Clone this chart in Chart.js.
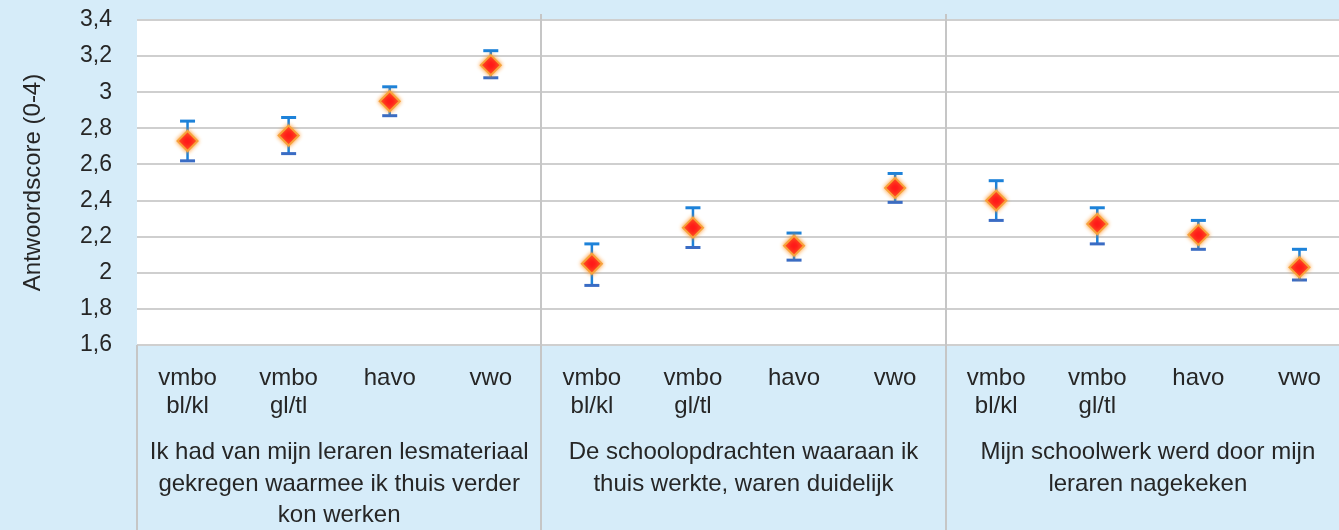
<!DOCTYPE html>
<html><head><meta charset="utf-8">
<script src="https://cdn.jsdelivr.net/npm/chart.js@4.4.0/dist/chart.umd.min.js"></script>
<style>
html,body{margin:0;padding:0;overflow:hidden;background:#d6ecf9;}
#wrap{position:relative;width:1339px;height:530px;overflow:hidden;}
</style>
</head><body>
<div id="wrap"><canvas id="c" width="1339" height="530"></canvas></div>
<script>
// ---- data ----
const groupLabels = [
  ["Ik had van mijn leraren lesmateriaal", "gekregen waarmee ik thuis verder", "kon werken"],
  ["De schoolopdrachten waaraan ik", "thuis werkte, waren duidelijk"],
  ["Mijn schoolwerk werd door mijn", "leraren nagekeken"]
];
const levelLabels = [["vmbo", "bl/kl"], ["vmbo", "gl/tl"], ["havo"], ["vwo"]];
const means = [2.73, 2.76, 2.95, 3.15,  2.05, 2.25, 2.15, 2.47,  2.40, 2.27, 2.21, 2.03];
const lower = [2.62, 2.66, 2.87, 3.08,  1.93, 2.14, 2.07, 2.39,  2.29, 2.16, 2.13, 1.96];
const upper = [2.84, 2.86, 3.03, 3.23,  2.16, 2.36, 2.22, 2.55,  2.51, 2.36, 2.29, 2.13];
const yMin = 1.6, yMax = 3.4, yStep = 0.2;
const yTitle = "Antwoordscore (0-4)";

const categories = [];
groupLabels.forEach(() => levelLabels.forEach(l => categories.push(l)));

const TEXT = '#262626';
const FONT = "'Liberation Sans', Arial, sans-serif";
const PLOT_OVERHANG = 11; // plot area continues past the right edge of the picture

function noPad(s) { s.paddingLeft = 0; s.paddingRight = 0; s.paddingTop = 0; s.paddingBottom = 0; }

const framePlugin = {
  id: 'frame',
  afterLayout(chart) {
    const a = chart.chartArea;
    const target = chart.width + PLOT_OVERHANG;
    a.right = target;
    a.width = a.right - a.left;
    ['x', 'x2'].forEach(id => {
      const s = chart.scales[id];
      s.right = target;
      s.width = s.right - s.left;
      s.configure();
    });
  },
  beforeDraw(chart) {
    const {ctx, chartArea: a} = chart;
    ctx.save();
    ctx.fillStyle = '#ffffff';
    ctx.fillRect(a.left, a.top, a.right - a.left, a.bottom - a.top);
    ctx.restore();
  },
  beforeDatasetsDraw(chart) {
    const {ctx, chartArea: a} = chart;
    const x = chart.scales.x, y = chart.scales.y;
    ctx.save();
    ctx.strokeStyle = '#c6c6c6';
    ctx.lineWidth = 2;
    for (let g = 1; g < groupLabels.length; g++) {
      const i = g * levelLabels.length;
      const px = Math.round((x.getPixelForValue(i - 1) + x.getPixelForValue(i)) / 2);
      ctx.beginPath(); ctx.moveTo(px, a.top - 6); ctx.lineTo(px, chart.height); ctx.stroke();
    }
    ctx.beginPath(); ctx.moveTo(a.left, a.bottom); ctx.lineTo(a.left, chart.height); ctx.stroke();
    const cap = 7.5;
    means.forEach((m, i) => {
      const px = x.getPixelForValue(i);
      const yt = y.getPixelForValue(upper[i]);
      const yb = y.getPixelForValue(lower[i]);
      ctx.lineWidth = 2.5;
      ctx.strokeStyle = '#1d82d9';
      ctx.beginPath(); ctx.moveTo(px, yt); ctx.lineTo(px, yb); ctx.stroke();
      ctx.lineWidth = 3;
      ctx.beginPath(); ctx.moveTo(px - cap, yt); ctx.lineTo(px + cap, yt); ctx.stroke();
      ctx.strokeStyle = '#3a6cc4';
      ctx.beginPath(); ctx.moveTo(px - cap, yb); ctx.lineTo(px + cap, yb); ctx.stroke();
    });
    ctx.restore();
  },
  beforeDatasetDraw(chart) {
    const ctx = chart.ctx;
    ctx.save();
    ctx.shadowColor = 'rgba(255,150,40,0.9)';
    ctx.shadowBlur = 4;
  },
  afterDatasetDraw(chart) {
    chart.ctx.restore();
  }
};

new Chart(document.getElementById('c'), {
  type: 'line',
  data: {
    labels: categories,
    datasets: [{
      data: means,
      showLine: false,
      pointStyle: 'rectRot',
      pointRadius: 10,
      pointHoverRadius: 10,
      backgroundColor: '#ff1a1a',
      borderColor: '#f7a23c',
      pointBorderWidth: 2,
      xAxisID: 'x',
      yAxisID: 'y'
    }]
  },
  options: {
    responsive: false,
    animation: false,
    events: [],
    layout: {padding: {top: 20, left: 0, right: 0, bottom: 0}},
    plugins: {legend: {display: false}, tooltip: {enabled: false}},
    scales: {
      x: {
        type: 'category',
        position: 'bottom',
        offset: true,
        weight: 0,
        grid: {display: false, drawTicks: false},
        border: {display: false},
        ticks: {
          autoSkip: false, maxRotation: 0, minRotation: 0,
          padding: 19,
          color: TEXT,
          font: {family: FONT, size: 24, lineHeight: 1.17}
        },
        afterFit(s) { s.height = 80; noPad(s); }
      },
      x2: {
        type: 'category',
        position: 'bottom',
        labels: groupLabels,
        offset: true,
        weight: 1,
        grid: {display: false, drawTicks: false},
        border: {display: false},
        ticks: {
          autoSkip: false, maxRotation: 0, minRotation: 0,
          padding: 12,
          color: TEXT,
          font: {family: FONT, size: 24, lineHeight: 1.31}
        },
        afterFit(s) { s.height = 105; noPad(s); }
      },
      y: {
        min: yMin, max: yMax,
        grid: {color: '#cfcfcf', lineWidth: 2, drawTicks: false},
        border: {display: false},
        ticks: {
          stepSize: yStep,
          padding: 25,
          color: TEXT,
          font: {family: FONT, size: 23},
          callback: v => String(Math.round(v * 10) / 10).replace('.', ',')
        },
        title: {
          display: true, text: yTitle, color: TEXT,
          font: {family: FONT, size: 24, lineHeight: 1.2},
          padding: {top: 19, bottom: 0}
        },
        afterFit(s) { s.width = 137; noPad(s); }
      }
    }
  },
  plugins: [framePlugin]
});
</script>
</body></html>
